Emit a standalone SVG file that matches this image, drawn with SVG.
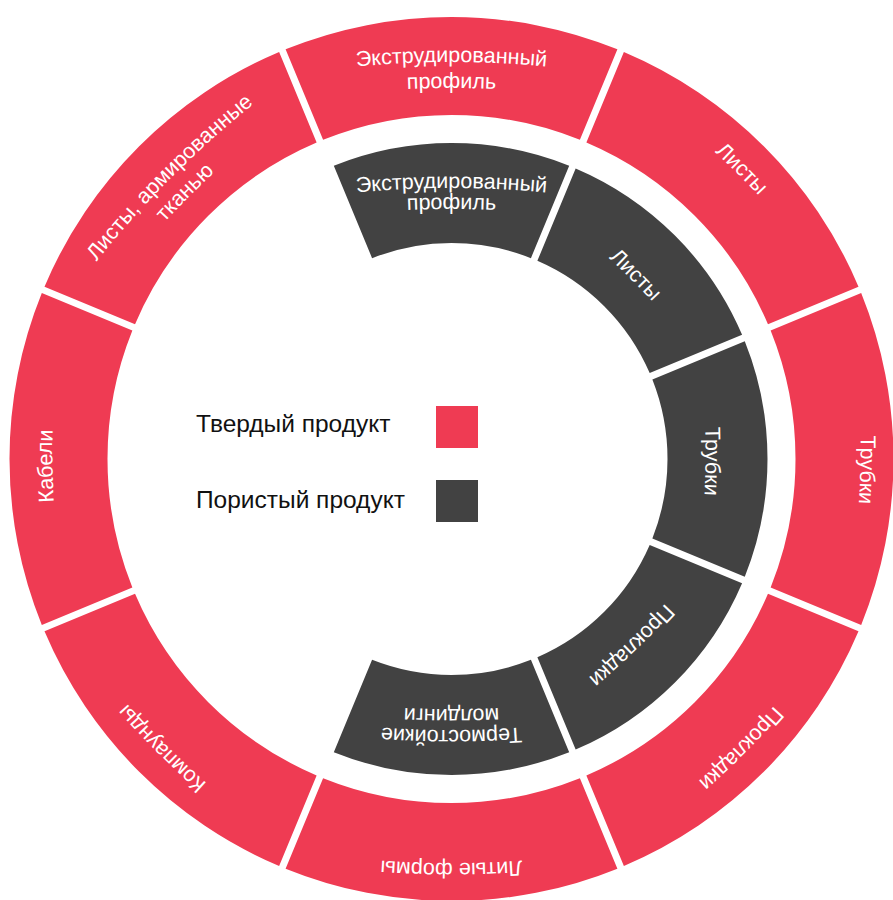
<svg xmlns="http://www.w3.org/2000/svg" xmlns:xlink="http://www.w3.org/1999/xlink" width="893" height="900" viewBox="0 0 893 900">
<style>
.red{fill:#EF3B53}
.dark{fill:#424242}
.lbl{font-family:"Liberation Sans",Arial,sans-serif;font-size:21.5px;fill:#ffffff;text-anchor:middle}
.leg{font-family:"Liberation Sans",Arial,sans-serif;font-size:24.5px;fill:#111111}
</style>
<defs>
<path id="segR" d="M -165.91,-409.68 A 442 442 0 0 1 165.91,-409.68 L 128.40,-319.14 A 344 344 0 0 0 -128.40,-319.14 Z"/>
<path id="segD" d="M -117.69,-293.27 A 316 316 0 0 1 117.69,-293.27 L 79.42,-200.87 A 216 216 0 0 0 -79.42,-200.87 Z"/>
<path id="t409" d="M -250,-377.25 A 1000 1000 0 0 1 250,-377.25"/>
<path id="t404" d="M -250,-372.25 A 1000 1000 0 0 1 250,-372.25"/>
<path id="t399" d="M -250,-367.25 A 1000 1000 0 0 1 250,-367.25"/>
<path id="t397" d="M -250,-365.25 A 1000 1000 0 0 1 250,-365.25"/>
<path id="t371" d="M -250,-339.25 A 1000 1000 0 0 1 250,-339.25"/>
<path id="t271" d="M -250,-239.25 A 1000 1000 0 0 1 250,-239.25"/>
<path id="t250" d="M -250,-218.25 A 1000 1000 0 0 1 250,-218.25"/>
<path id="t254" d="M -250,-222.25 A 1000 1000 0 0 1 250,-222.25"/>
</defs>
<rect x="0" y="0" width="893" height="900" fill="#ffffff"/>
<g id="connectors"></g>
<g transform="translate(451.5,459)">
  <g id="solid-extruded">
    <use href="#segR" class="red"/>
    <text class="lbl"><textPath href="#t397" startOffset="50%">Экструдированный</textPath></text>
    <text class="lbl"><textPath href="#t371" startOffset="50%">профиль</textPath></text>
  </g>
  <g id="solid-sheets">
    <use href="#segR" class="red" transform="rotate(45)"/>
    <text class="lbl" transform="rotate(45)"><textPath href="#t404" startOffset="50%">Листы</textPath></text>
  </g>
  <g id="solid-tubes">
    <use href="#segR" class="red" transform="rotate(90)"/>
    <text class="lbl" transform="rotate(91.5)"><textPath href="#t409" startOffset="50%">Трубки</textPath></text>
  </g>
  <g id="solid-gaskets">
    <use href="#segR" class="red" transform="rotate(135)"/>
    <text class="lbl" transform="rotate(135)"><textPath href="#t404" startOffset="50%">Прокладки</textPath></text>
  </g>
  <g id="solid-cast">
    <use href="#segR" class="red" transform="rotate(180)"/>
    <text class="lbl" transform="rotate(180)"><textPath href="#t404" startOffset="50%">Литые формы</textPath></text>
  </g>
  <g id="solid-compounds">
    <use href="#segR" class="red" transform="rotate(225)"/>
    <text class="lbl" transform="rotate(225)"><textPath href="#t404" startOffset="50%">Компаунды</textPath></text>
  </g>
  <g id="solid-cables">
    <use href="#segR" class="red" transform="rotate(270)"/>
    <text class="lbl" transform="rotate(269)"><textPath href="#t399" startOffset="50%">Кабели</textPath></text>
  </g>
  <g id="solid-fabric-sheets">
    <use href="#segR" class="red" transform="rotate(315)"/>
    <text class="lbl" transform="rotate(315)"><textPath href="#t397" startOffset="50%">Листы, армированные</textPath></text>
    <text class="lbl" transform="rotate(315)"><textPath href="#t371" startOffset="50%">тканью</textPath></text>
  </g>
  <g id="porous-extruded">
    <use href="#segD" class="dark"/>
    <text class="lbl"><textPath href="#t271" startOffset="50%">Экструдированный</textPath></text>
    <text class="lbl"><textPath href="#t250" startOffset="50%">профиль</textPath></text>
  </g>
  <g id="porous-sheets">
    <use href="#segD" class="dark" transform="rotate(45)"/>
    <text class="lbl" transform="rotate(45)"><textPath href="#t254" startOffset="50%">Листы</textPath></text>
  </g>
  <g id="porous-tubes">
    <use href="#segD" class="dark" transform="rotate(90)"/>
    <text class="lbl" transform="rotate(90.5)"><textPath href="#t254" startOffset="50%">Трубки</textPath></text>
  </g>
  <g id="porous-gaskets">
    <use href="#segD" class="dark" transform="rotate(135)"/>
    <text class="lbl" transform="rotate(136)"><textPath href="#t254" startOffset="50%">Прокладки</textPath></text>
  </g>
  <g id="porous-moldings">
    <use href="#segD" class="dark" transform="rotate(180)"/>
    <text class="lbl" transform="rotate(180)"><textPath href="#t271" startOffset="50%">Термостойкие</textPath></text>
    <text class="lbl" transform="rotate(180)"><textPath href="#t250" startOffset="50%">молдинги</textPath></text>
  </g>
</g>
<g id="legend">
  <g id="legend-solid">
    <text class="leg" x="196" y="432">Твердый продукт</text>
    <rect class="red" x="436" y="406" width="42" height="42"/>
  </g>
  <g id="legend-porous">
    <text class="leg" x="196" y="508">Пористый продукт</text>
    <rect class="dark" x="436" y="480" width="42" height="42"/>
  </g>
</g>
</svg>
